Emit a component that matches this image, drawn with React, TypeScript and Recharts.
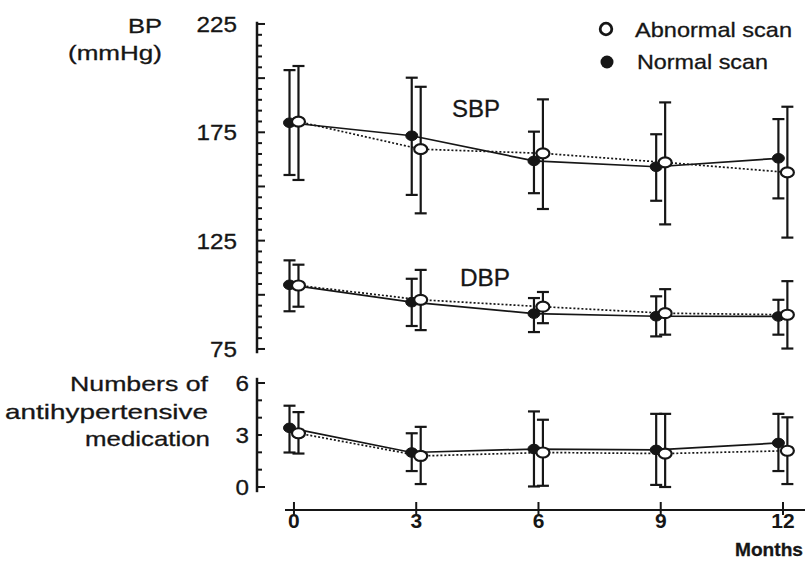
import React from "react";
import { ComposedChart, Line, XAxis, YAxis, ErrorBar } from "recharts";

const months = [0, 3, 6, 9, 12];

// SBP (mmHg)
const sbpNormal = [179.4, 173.4, 161.8, 159.1, 163];
const sbpNormalLo = [155.3, 146.1, 146.9, 143.4, 144.5];
const sbpNormalHi = [203.7, 200.2, 175.3, 174.1, 181.1];
const sbpAbnormal = [179.9, 167.2, 165.3, 161.1, 156.5];
const sbpAbnormalLo = [153, 137.6, 139.6, 132.5, 126.4];
const sbpAbnormalHi = [205.6, 196, 190.2, 188.8, 186.8];

// DBP (mmHg)
const dbpNormal = [104.6, 96.6, 91.3, 90.1, 90];
const dbpNormalLo = [92.4, 85.6, 82.8, 80.8, 81.6];
const dbpNormalHi = [115.9, 107.4, 98.5, 99.3, 97.7];
const dbpAbnormal = [104.3, 97.7, 94.5, 91.5, 90.8];
const dbpAbnormalLo = [94.5, 83.7, 86.9, 81.6, 75.2];
const dbpAbnormalHi = [113.9, 111.5, 101.3, 102.6, 106.3];

// numbers of antihypertensive medication
const medNormal = [3.41, 1.99, 2.19, 2.14, 2.54];
const medNormalLo = [1.99, 0.92, 0.03, 0.12, 0.92];
const medNormalHi = [4.69, 3.1, 4.36, 4.22, 4.22];
const medAbnormal = [3.1, 1.79, 1.99, 1.93, 2.09];
const medAbnormalLo = [1.93, 0.17, 0.07, 0, 0.17];
const medAbnormalHi = [4.32, 3.47, 3.88, 4.22, 4.02];

const bpTicks = [75, 80, 85, 90, 95, 100, 105, 110, 115, 120, 125, 130, 135, 140, 145, 150, 155, 160, 165, 170, 175, 180, 185, 190, 195, 200, 205, 210, 215, 220, 225];
const bpLabels = [75, 125, 175, 225];
const medTicks = [0, 1, 2, 3, 4, 5, 6];
const medLabels = [0, 3, 6];

const INK = "#161616";
const FONT = "'Liberation Sans', Arial, sans-serif";
const SHIFT = 0.11; // normal scan sits slightly left, abnormal slightly right
const XDOM: [number, number] = [-0.908, 12.42];

function build(mean: number[], lo: number[], hi: number[], dx: number) {
  return months.map((m, i) => ({
    x: m + dx,
    y: mean[i],
    err: [mean[i] - lo[i], hi[i] - mean[i]],
  }));
}

const FilledDot = (p: any) => <ellipse cx={p.cx} cy={p.cy} rx={6} ry={4.8} fill={INK} stroke={INK} strokeWidth={1} />;
const OpenDot = (p: any) => <ellipse cx={p.cx} cy={p.cy} rx={6.5} ry={5} fill="#fff" stroke={INK} strokeWidth={2.2} />;

const makeYTick = (labels: number[], margin: number, longEvery: number) => (p: any) => {
  const ax = p.x + margin;
  const v = p.payload.value;
  const len = v % longEvery === 0 ? 8 : 5;
  const s = String(v);
  return (
    <g>
      <line x1={ax} x2={ax + len} y1={p.y} y2={p.y} stroke={INK} strokeWidth={2} />
      {labels.includes(v) && (
        <text
          x={p.x}
          y={p.y}
          dy="0.36em"
          textAnchor="end"
          fontSize={22}
          fontFamily={FONT}
          fill={INK}
          stroke={INK}
          strokeWidth={0.3}
          textLength={s.length * 13.5}
          lengthAdjust="spacingAndGlyphs"
        >
          {s}
        </text>
      )}
    </g>
  );
};

const XTick = (p: any) => (
  <g>
    <line x1={p.x} x2={p.x} y1={p.y - 8} y2={p.y + 5} stroke={INK} strokeWidth={2} />
    <text x={p.x} y={p.y + 18} textAnchor="middle" fontSize={21} fontWeight="bold" fontFamily={FONT} fill={INK}>
      {p.payload.value}
    </text>
  </g>
);

function series(data: any[], normal: boolean, key: string) {
  return (
    <Line
      key={key}
      data={data}
      dataKey="y"
      type="linear"
      stroke={INK}
      strokeWidth={1.7}
      strokeDasharray={normal ? undefined : "2 2"}
      dot={normal ? <FilledDot /> : <OpenDot />}
      activeDot={false}
      isAnimationActive={false}
    >
      <ErrorBar dataKey="err" direction="y" width={6} stroke={INK} strokeWidth={2.2} isAnimationActive={false} />
    </Line>
  );
}

const Label = (p: { x: number; y: number; w: number; anchor?: string; size?: number; bold?: boolean; children: string }) => (
  <text
    x={p.x}
    y={p.y}
    textAnchor={(p.anchor as any) || "start"}
    fontSize={p.size || 21}
    fontWeight={p.bold ? "bold" : "normal"}
    textLength={p.w}
    lengthAdjust="spacingAndGlyphs"
    stroke={INK}
    strokeWidth={0.3}
  >
    {p.children}
  </text>
);

export default function App() {
  const sbpN = build(sbpNormal, sbpNormalLo, sbpNormalHi, -SHIFT);
  const sbpA = build(sbpAbnormal, sbpAbnormalLo, sbpAbnormalHi, SHIFT);
  const dbpN = build(dbpNormal, dbpNormalLo, dbpNormalHi, -SHIFT);
  const dbpA = build(dbpAbnormal, dbpAbnormalLo, dbpAbnormalHi, SHIFT);
  const medN = build(medNormal, medNormalLo, medNormalHi, -SHIFT);
  const medA = build(medAbnormal, medAbnormalLo, medAbnormalHi, SHIFT);
  const axisData = months.map((m) => ({ x: m, y: 0 }));

  return (
    <div style={{ position: "absolute", left: 0, top: 0, width: 805, height: 564, background: "#fff", overflow: "hidden" }}>
      {/* blood pressure */}
      <div style={{ position: "absolute", left: 0, top: 0 }}>
        <ComposedChart width={805} height={372} margin={{ top: 21.8, right: 5, bottom: 18.7, left: 0 }}>
          <XAxis type="number" dataKey="x" domain={XDOM} hide allowDataOverflow />
          <YAxis
            type="number"
            domain={[73, 226]}
            ticks={bpTicks}
            interval={0}
            width={257}
            tickSize={0}
            tickMargin={20}
            tickLine={false}
            axisLine={{ stroke: INK, strokeWidth: 2.5 }}
            tick={makeYTick(bpLabels, 20, 25)}
          />
          {series(sbpN, true, "sbpN")}
          {series(dbpN, true, "dbpN")}
          {series(sbpA, false, "sbpA")}
          {series(dbpA, false, "dbpA")}
        </ComposedChart>
      </div>

      {/* medication */}
      <div style={{ position: "absolute", left: 0, top: 360 }}>
        <ComposedChart width={805} height={146} margin={{ top: 17.8, right: 5, bottom: 13.8, left: 0 }}>
          <XAxis type="number" dataKey="x" domain={XDOM} hide allowDataOverflow />
          <YAxis
            type="number"
            domain={[-0.3, 6.3]}
            ticks={medTicks}
            interval={0}
            width={257}
            tickSize={0}
            tickMargin={8}
            tickLine={false}
            axisLine={{ stroke: INK, strokeWidth: 2.5 }}
            tick={makeYTick(medLabels, 8, 6)}
          />
          {series(medN, true, "medN")}
          {series(medA, false, "medA")}
        </ComposedChart>
      </div>

      {/* months axis */}
      <div style={{ position: "absolute", left: 0, top: 480 }}>
        <ComposedChart width={805} height={60} margin={{ top: 0, right: 0, bottom: 0, left: 285 }}>
          <XAxis
            type="number"
            dataKey="x"
            domain={[-0.22, 12.54]}
            ticks={months}
            interval={0}
            height={30}
            tickSize={0}
            tickMargin={0}
            tickLine={false}
            axisLine={{ stroke: INK, strokeWidth: 2.2 }}
            tick={<XTick />}
          />
          <YAxis hide domain={[0, 1]} />
          <Line data={axisData} dataKey="y" stroke="none" dot={false} isAnimationActive={false} />
        </ComposedChart>
      </div>

      {/* titles and legend */}
      <svg width={805} height={564} style={{ position: "absolute", left: 0, top: 0, pointerEvents: "none" }}>
        <g fontFamily={FONT} fill={INK}>
          <Label x={162} y={33} w={34} anchor="end">BP</Label>
          <Label x={162} y={60} w={94} anchor="end">(mmHg)</Label>
          <Label x={452} y={117} w={48} size={23}>SBP</Label>
          <Label x={460} y={286} w={50} size={23}>DBP</Label>
          <Label x={208} y={391} w={138} anchor="end">Numbers of</Label>
          <Label x={208} y={419} w={203} anchor="end">antihypertensive</Label>
          <Label x={210} y={446} w={125} anchor="end">medication</Label>
          <Label x={803} y={556} w={68} size={19} bold anchor="end">Months</Label>

          <circle cx={606} cy={29} r={5.8} fill="#fff" stroke={INK} strokeWidth={2.8} />
          <Label x={635} y={37} w={157}>Abnormal scan</Label>
          <circle cx={607} cy={62} r={6.5} fill={INK} />
          <Label x={637} y={69} w={131}>Normal scan</Label>
        </g>
      </svg>
    </div>
  );
}
